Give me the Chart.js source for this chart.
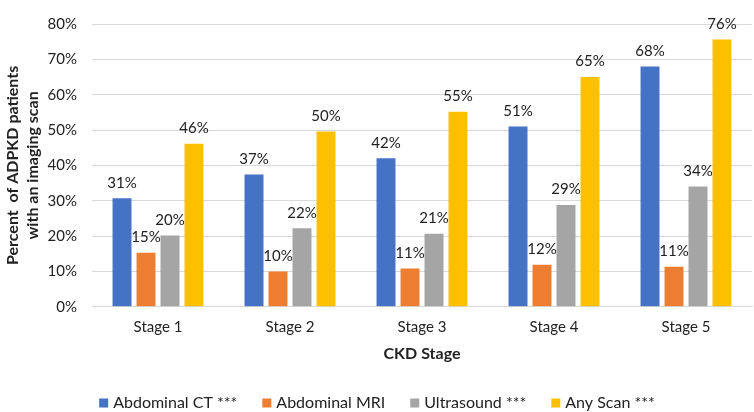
<!DOCTYPE html>
<html><head><meta charset="utf-8">
<script src="https://cdn.jsdelivr.net/npm/chart.js@4"></script>
<style>html,body{margin:0;padding:0;background:#fff}#wrap{width:754px;height:412px}</style>
</head><body><div id="wrap"><canvas id="c"></canvas></div>
<script>
const categories = ["Stage 1","Stage 2","Stage 3","Stage 4","Stage 5"];
const ct  = [30.7, 37.4, 42.0, 51.0, 68.0];
const mri = [15.3, 10.0, 10.8, 11.9, 11.3];
const us  = [20.2, 22.2, 20.7, 28.8, 34.0];
const anyScan = [46.1, 49.6, 55.2, 65.0, 75.6];
const ctLabels  = ["31%","37%","42%","51%","68%"];
const mriLabels = ["15%","10%","11%","12%","11%"];
const usLabels  = ["20%","22%","21%","29%","34%"];
const anyLabels = ["46%","50%","55%","65%","76%"];
const seriesNames = ["Abdominal CT ***","Abdominal MRI","Ultrasound ***","Any Scan ***"];
const FONT = "Lato, 'Open Sans', sans-serif";

const labelPlugin = {
  id: 'barLabels',
  afterDatasetsDraw(chart) {
    const ctx = chart.ctx;
    ctx.save();
    ctx.font = "15px " + FONT;
    ctx.fillStyle = "#222";
    ctx.textAlign = "center";
    ctx.textBaseline = "bottom";
    chart.data.datasets.forEach((ds, i) => {
      const meta = chart.getDatasetMeta(i);
      meta.data.forEach((bar, j) => {
        ctx.fillText(ds.valueLabels[j], bar.x, bar.y - 8);
      });
    });
    ctx.restore();
  }
};

const legendPlugin = {
  id: 'bottomLegend',
  afterDraw(chart) {
    const ctx = chart.ctx;
    const ds = chart.data.datasets;
    ctx.save();
    ctx.font = "16px " + FONT;
    ctx.textBaseline = "middle";
    ctx.textAlign = "left";
    const box = 9, gapBox = 5, gapItem = 25;
    const widths = ds.map(d => ctx.measureText(d.label).width);
    const total = widths.reduce((a, w) => a + box + gapBox + w, 0) + gapItem * (ds.length - 1);
    let x = (chart.width - total) / 2;
    const y = chart.height - 9;
    ds.forEach((d, i) => {
      ctx.fillStyle = d.backgroundColor;
      ctx.fillRect(x, y - box / 2, box, box);
      ctx.fillStyle = "#222";
      ctx.fillText(d.label, x + box + gapBox, y);
      x += box + gapBox + widths[i] + gapItem;
    });
    ctx.restore();
  }
};

new Chart(document.getElementById('c'), {
  type: 'bar',
  data: {
    labels: categories,
    datasets: [
      {label: seriesNames[0], data: ct, valueLabels: ctLabels, backgroundColor: '#4472C4'},
      {label: seriesNames[1], data: mri, valueLabels: mriLabels, backgroundColor: '#ED7D31'},
      {label: seriesNames[2], data: us, valueLabels: usLabels, backgroundColor: '#A5A5A5'},
      {label: seriesNames[3], data: anyScan, valueLabels: anyLabels, backgroundColor: '#FFC000'}
    ]
  },
  options: {
    responsive: true,
    maintainAspectRatio: false,
    animation: false,
    layout: {autoPadding: false, padding: {left: 2, right: 2, top: -7, bottom: 47}},
    categoryPercentage: 0.727,
    barPercentage: 0.79,
    plugins: {
      legend: {display: false},
      tooltip: {enabled: false}
    },
    scales: {
      x: {
        grid: {display: false},
        border: {color: '#d9d9d9'},
        ticks: {font: {family: FONT, size: 15}, color: '#222', padding: 3},
        title: {display: true, text: 'CKD Stage', font: {family: FONT, size: 16, weight: 'bold'}, color: '#222', padding: {top: 5, bottom: 2}}
      },
      y: {
        min: 0, max: 80,
        afterFit: s => { s.width = 90; },
        ticks: {stepSize: 10, callback: v => v + '%', font: {family: FONT, size: 15}, color: '#222', padding: 15},
        grid: {color: '#d9d9d9', drawTicks: false},
        border: {display: false},
        title: {display: true, text: ['Percent  of ADPKD patients', 'with an imaging scan'], font: {family: FONT, size: 16, weight: 'bold', lineHeight: 1.3}, color: '#222', padding: {top: 0, bottom: 4}}
      }
    }
  },
  plugins: [labelPlugin, legendPlugin]
});
</script></body></html>
